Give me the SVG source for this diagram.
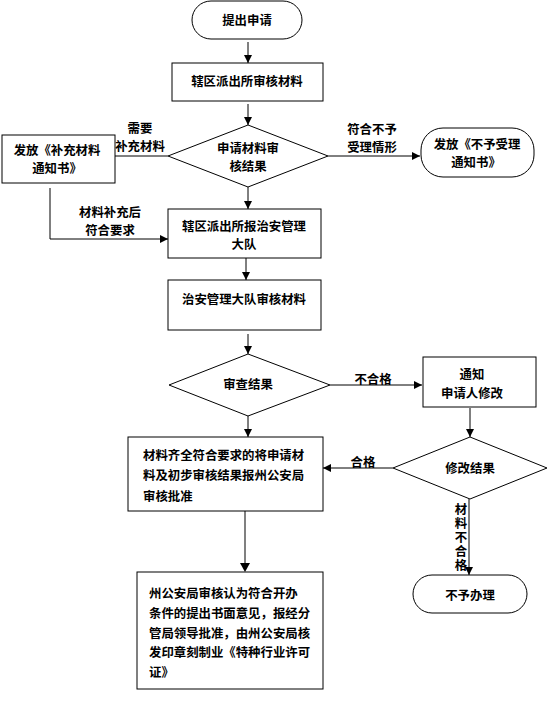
<svg xmlns="http://www.w3.org/2000/svg" width="549" height="705" viewBox="0 0 549 705">
<style>
.s{fill:#fff;stroke:#000;stroke-width:1}
.t{font-family:"Noto Sans CJK SC","Noto Sans CJK JP",sans-serif;font-size:12.4px;font-weight:bold;fill:#000;dominant-baseline:central}
.m{text-anchor:middle}
.c{fill:none;stroke:#000;stroke-width:1}
.g{fill:none;stroke:#808080;stroke-width:2}
</style>
<defs>
<marker id="a" viewBox="0 0 10 10" refX="10" refY="5" markerWidth="8" markerHeight="8" markerUnits="userSpaceOnUse" orient="auto"><path d="M0,0L10,5L0,10z" fill="#000"/></marker>
</defs>
<rect width="549" height="705" fill="#fff"/>
<g id="connectors">
<path class="c" d="M248,42V63" marker-end="url(#a)"/>
<path class="c" d="M248,104V125" marker-end="url(#a)"/>
<path class="c" d="M168,156H115"/>
<path class="c" d="M328,156H420" marker-end="url(#a)"/>
<path class="c" d="M248,187V209" marker-end="url(#a)"/>
<path class="c" d="M50,188V239H168" marker-end="url(#a)"/>
<path class="c" d="M246,258V280" marker-end="url(#a)"/>
<path class="c" d="M248,334V354" marker-end="url(#a)"/>
<path class="c" d="M330,385H422" marker-end="url(#a)"/>
<path class="c" d="M470,408V437" marker-end="url(#a)"/>
<path class="c" d="M393,468H323" marker-end="url(#a)"/>
<path class="c" d="M248,416V437" marker-end="url(#a)"/>
<path class="g" d="M245,511V563"/>
<path d="M240,563L250,563L245,572z" fill="#000"/>
<path class="c" d="M469,499V575" marker-end="url(#a)"/>
<text class="t m"><tspan x="140" y="128">需要</tspan><tspan x="140" y="146">补充材料</tspan></text>
<text class="t m"><tspan x="372" y="129">符合不予</tspan><tspan x="372" y="147">受理情形</tspan></text>
<text class="t m"><tspan x="110" y="212">材料补充后</tspan><tspan x="110" y="230">符合要求</tspan></text>
<text class="t m" x="373" y="379">不合格</text>
<text class="t m" x="363" y="462">合格</text>
<text x="461" y="503" style="font-family:'Noto Sans CJK SC',sans-serif;font-size:12.4px;font-weight:bold;writing-mode:vertical-rl;letter-spacing:1.6px">材料不合格</text>
</g>
<g id="start">
<rect class="s" x="192" y="1" width="110" height="38" rx="19"/>
<text class="t m" x="247" y="20">提出申请</text>
</g>
<g id="box1">
<rect class="s" x="172" y="63" width="151" height="38"/>
<text class="t m" x="247" y="81">辖区派出所审核材料</text>
</g>
<g id="dec1">
<path class="s" d="M248,125L328,156L248,187L168,156z"/>
<text class="t m"><tspan x="248" y="148">申请材料审</tspan><tspan x="248" y="166">核结果</tspan></text>
</g>
<g id="supp">
<rect class="s" x="2" y="135" width="113" height="48"/>
<text class="t m"><tspan x="57" y="150">发放《补充材料</tspan><tspan x="57" y="168">通知书》</tspan></text>
</g>
<g id="reject1">
<rect class="s" x="421" y="128" width="113" height="49" rx="22"/>
<text class="t m"><tspan x="477" y="144">发放《不予受理</tspan><tspan x="476" y="162">通知书》</tspan></text>
</g>
<g id="box2">
<rect class="s" x="168" y="209" width="153" height="49"/>
<text class="t m"><tspan x="244" y="226">辖区派出所报治安管理</tspan><tspan x="244" y="244">大队</tspan></text>
</g>
<g id="box3">
<rect class="s" x="168" y="280" width="153" height="50"/>
<text class="t m" x="244" y="299">治安管理大队审核材料</text>
</g>
<g id="dec2">
<path class="s" d="M248,354L330,385L248,416L169,385z"/>
<text class="t m" x="248" y="384">审查结果</text>
</g>
<g id="notify">
<rect class="s" x="423" y="357" width="113" height="50"/>
<text class="t m"><tspan x="472" y="374">通知</tspan><tspan x="472" y="393">申请人修改</tspan></text>
</g>
<g id="dec3">
<path class="s" d="M470,437L547,468L470,499L393,468z"/>
<text class="t m" x="470" y="468">修改结果</text>
</g>
<g id="box4">
<rect class="s" x="128" y="437" width="195" height="74"/>
<text class="t" x="143" y="455">材料齐全符合要求的将申请材</text>
<text class="t" x="143" y="475">料及初步审核结果报州公安局</text>
<text class="t" x="143" y="496">审核批准</text>
</g>
<g id="box5">
<rect class="s" x="137" y="572" width="186" height="117"/>
<text class="t" x="149" y="593">州公安局审核认为符合开办</text>
<text class="t" x="149" y="613">条件的提出书面意见，报经分</text>
<text class="t" x="149" y="633">管局领导批准，由州公安局核</text>
<text class="t" x="149" y="652">发印章刻制业《特种行业许可</text>
<text class="t" x="149" y="672">证》</text>
</g>
<g id="end">
<rect class="s" x="413" y="575" width="114" height="38" rx="19"/>
<text class="t m" x="470" y="595">不予办理</text>
</g>
</svg>
